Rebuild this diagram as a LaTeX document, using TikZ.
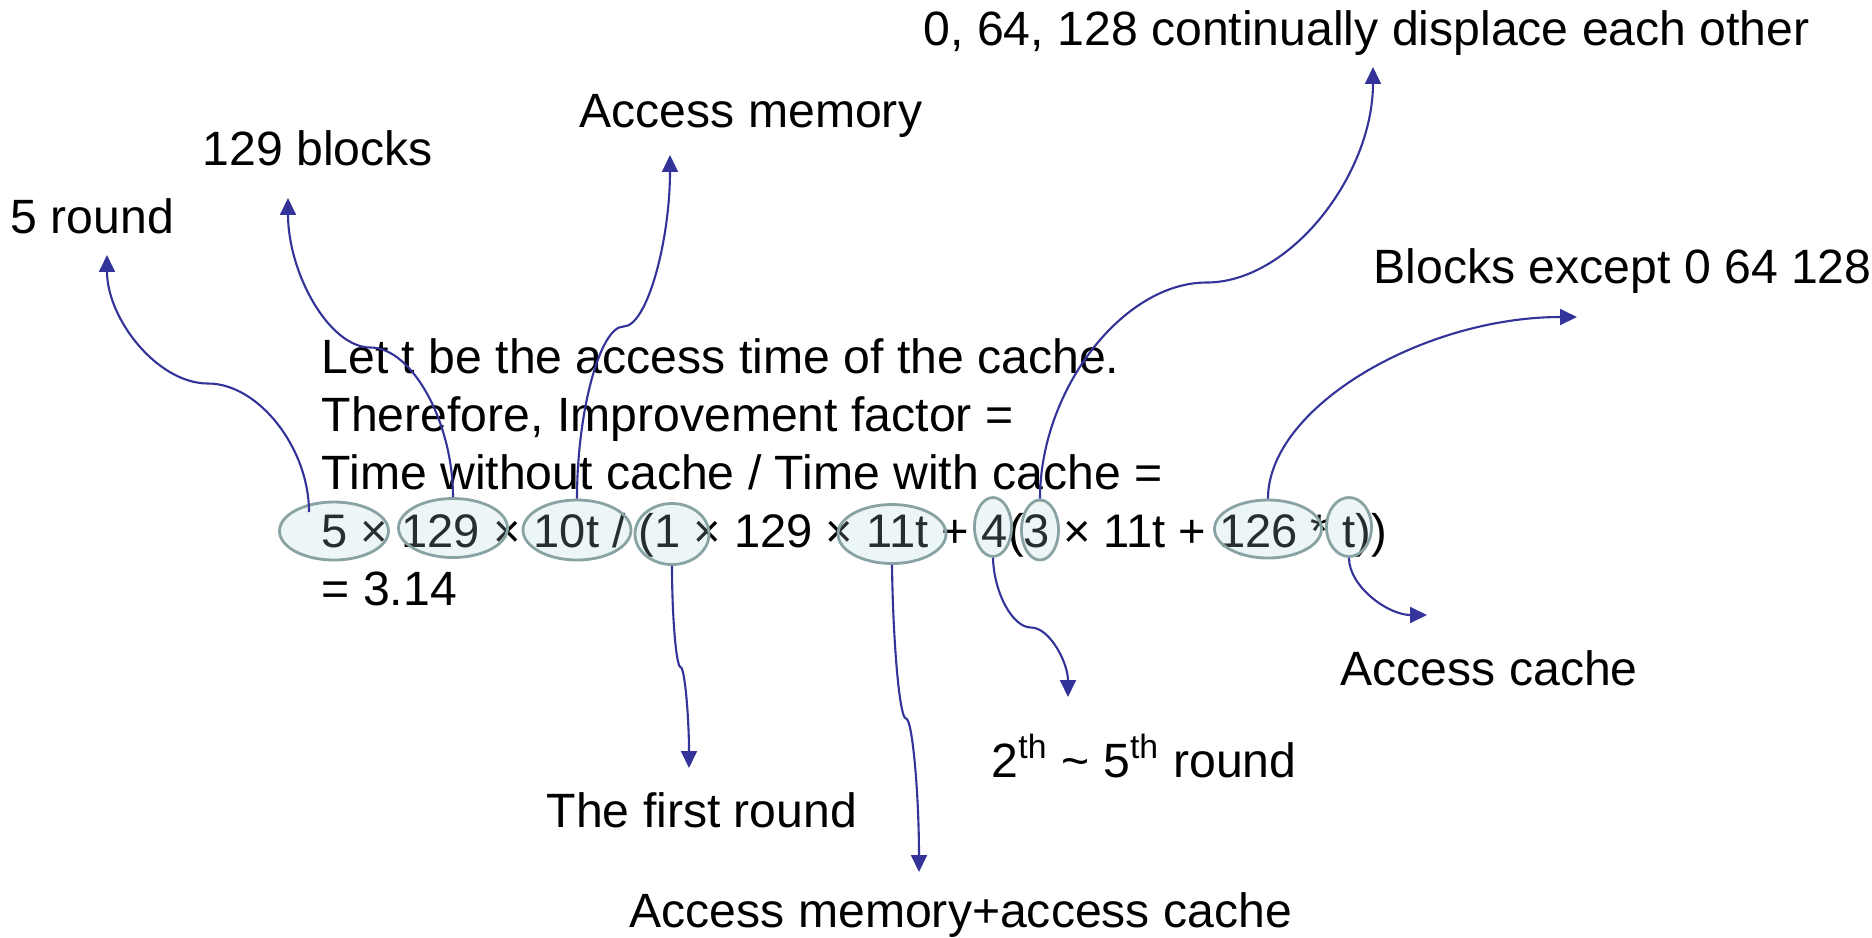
\documentclass[tikz,border=0pt]{standalone}
\usepackage{fontspec}
\setmainfont{Liberation Sans}
\usetikzlibrary{arrows.meta,shapes.geometric}
\definecolor{arrowblue}{RGB}{51,51,153}
\definecolor{ovalline}{RGB}{137,163,165}
\definecolor{ovalfill}{RGB}{175,212,215}

\begin{document}
\begin{tikzpicture}[
    txt/.style={anchor=base west, inner sep=0pt, font=\fontsize{13.7}{16}\selectfont},
    calctxt/.style={txt, font=\fontsize{13.4}{16}\selectfont},
    oval/.style={ellipse, draw=ovalline, line width=0.8pt, fill=ovalfill, fill opacity=0.22, inner sep=0pt},
    pointer/.style={draw=arrowblue, line width=0.6pt, -{Triangle[length=4.8pt,width=4.5pt]}}
]
    \useasboundingbox (0,0) rectangle (18.72,-9.37);

    % The calculation
    \node[txt] (line1) at (3.21,-3.73) {Let t be the access time of the cache.};
    \node[txt] (line2) at (3.21,-4.31) {Therefore, Improvement factor =};
    \node[txt] (line3) at (3.21,-4.89) {Time without cache / Time with cache =};
    \node[calctxt] (calc) at (3.21,-5.47) {5 × 129 × 10t / (1 × 129 × 11t + 4(3 × 11t + 126 * t))};
    \node[txt] (result) at (3.21,-6.05) {= 3.14};

    % Ovals round the terms
    \node[oval, minimum width=1.09cm, minimum height=0.58cm] (e5) at (3.34,-5.31) {};
    \node[oval, minimum width=1.09cm, minimum height=0.59cm] (e129) at (4.53,-5.28) {};
    \node[oval, minimum width=1.08cm, minimum height=0.60cm] (e10t) at (5.77,-5.30) {};
    \node[oval, minimum width=0.74cm, minimum height=0.61cm] (e1) at (6.72,-5.34) {};
    \node[oval, minimum width=1.08cm, minimum height=0.59cm] (e11t) at (8.92,-5.34) {};
    \node[oval, minimum width=0.37cm, minimum height=0.59cm] (e4) at (9.93,-5.27) {};
    \node[oval, minimum width=0.37cm, minimum height=0.60cm] (e3) at (10.40,-5.30) {};
    \node[oval, minimum width=1.07cm, minimum height=0.58cm] (e126) at (12.68,-5.29) {};
    \node[oval, minimum width=0.45cm, minimum height=0.59cm] (et) at (13.49,-5.27) {};

    % Labels
    \node[txt] (round5) at (0.10,-2.33) {5 round};
    \node[txt] (blocks) at (2.02,-1.65) {129 blocks};
    \node[txt] (accmem) at (5.79,-1.27) {Access memory};
    \node[txt] (displace) at (9.23,-0.45) {0, 64, 128 continually displace each other};
    \node[txt] (except) at (13.73,-2.83) {Blocks except 0 64 128};
    \node[txt] (acccache) at (13.40,-6.85) {Access cache};
    \node[txt] (rounds) at (9.91,-7.77) {2\textsuperscript{th} \textasciitilde{} 5\textsuperscript{th} round};
    \node[txt] (first) at (5.46,-8.27) {The first round};
    \node[txt] (memcache) at (6.29,-9.27) {Access memory+access cache};

    % Tips of the pointers
    \coordinate (t5) at (1.07,-2.55);
    \coordinate (t129) at (2.88,-1.98);
    \coordinate (t10t) at (6.70,-1.55);
    \coordinate (t3) at (13.73,-0.67);
    \coordinate (t126) at (15.77,-3.17);
    \coordinate (tt) at (14.27,-6.15);
    \coordinate (t1) at (6.89,-7.68);
    \coordinate (t11t) at (9.19,-8.72);
    \coordinate (t4) at (10.68,-6.97);

    % Pointers
    \draw[pointer] ([shift={(-0.25,0.19)}]e5.center) .. controls (3.09,-4.48) and (2.585,-3.835) .. (2.08,-3.835)
        .. controls (1.575,-3.835) and (1.07,-3.19) .. (t5);
    \draw[pointer] (e129.north) .. controls (4.53,-4.22) and (4.12,-3.475) .. (3.705,-3.475)
        .. controls (3.29,-3.475) and (2.88,-2.73) .. (t129);
    \draw[pointer] (e10t.north) .. controls (5.77,-4.12) and (6.00,-3.265) .. (6.235,-3.265)
        .. controls (6.47,-3.265) and (6.70,-2.41) .. (t10t);
    \draw[pointer] (e3.north) .. controls (10.40,-3.90) and (11.23,-2.825) .. (12.065,-2.825)
        .. controls (12.90,-2.825) and (13.73,-1.75) .. (t3);
    \draw[pointer] (e126.north) .. controls (12.68,-4.075) and (14.225,-3.17) .. (t126);
    \draw[pointer] (et.south) .. controls (13.49,-5.865) and (13.88,-6.15) .. (tt);
    \draw[pointer] (e1.south) .. controls (6.72,-6.165) and (6.7625,-6.67) .. (6.805,-6.67)
        .. controls (6.8475,-6.67) and (6.89,-7.175) .. (t1);
    \draw[pointer] (e11t.south) .. controls (8.93,-6.4175) and (8.995,-7.185) .. (9.06,-7.185)
        .. controls (9.125,-7.185) and (9.19,-7.9525) .. (t11t);
    \draw[pointer] (e4.south) .. controls (9.94,-5.9275) and (10.125,-6.275) .. (10.31,-6.275)
        .. controls (10.495,-6.275) and (10.68,-6.6225) .. (t4);
\end{tikzpicture}
\end{document}
